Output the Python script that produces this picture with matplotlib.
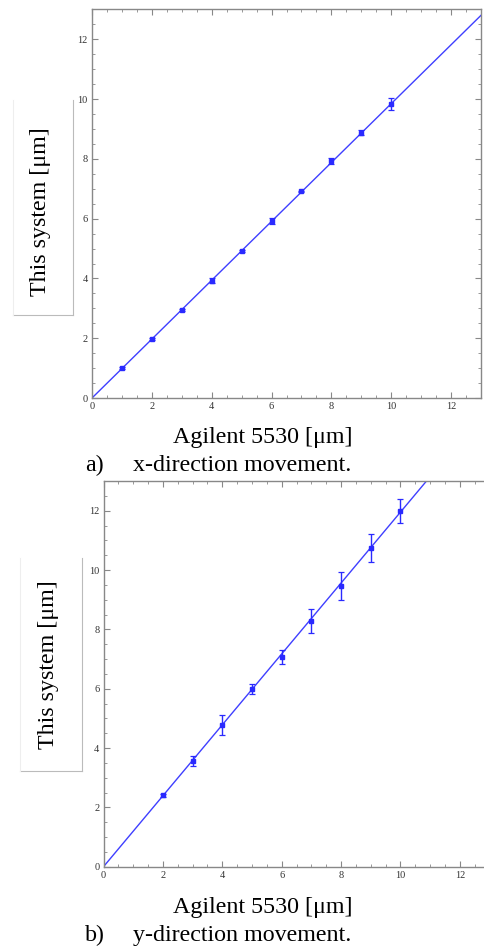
import numpy as np
import matplotlib
matplotlib.use('Agg')
import matplotlib.pyplot as plt
from matplotlib.ticker import MultipleLocator
from matplotlib.lines import Line2D

plt.rcParams['font.family'] = ['Liberation Serif', 'DejaVu Serif']

# x-direction measurements
xa = [1, 2, 3, 4, 5, 6, 7, 8, 9, 10]
ya = [1.0, 1.97, 2.94, 3.93, 4.92, 5.93, 6.91, 7.93, 8.88, 9.85]
ea = [0.04, 0.04, 0.04, 0.07, 0.03, 0.1, 0.03, 0.1, 0.08, 0.2]
slope_a = 0.985

# y-direction measurements
xb = [2, 3, 4, 5, 6, 7, 8, 9, 10]
yb = [2.41, 3.56, 4.78, 5.99, 7.08, 8.28, 9.46, 10.74, 12.0]
eb = [0.05, 0.17, 0.34, 0.16, 0.24, 0.39, 0.48, 0.46, 0.4]
slope_b = 1.195

ticks = [0, 2, 4, 6, 8, 10, 12]

BLUE = '#2a2aff'
SPINE = '#888888'
FS = 17.3

fig = plt.figure(figsize=(4.84, 9.47), dpi=100)


def setup_axes(ax):
    ax.set_xlim(0, 13)
    ax.set_ylim(0, 13)
    ax.set_xticks(ticks)
    ax.set_yticks(ticks)
    ax.xaxis.set_minor_locator(MultipleLocator(0.5))
    ax.yaxis.set_minor_locator(MultipleLocator(0.5))
    ax.tick_params(which='both', direction='in', top=True, right=True,
                   color=SPINE, labelsize=7.5, labelcolor='#333333', pad=3)
    ax.tick_params(which='major', length=4, width=0.8)
    ax.tick_params(which='minor', length=2, width=0.6)
    for s in ax.spines.values():
        s.set_color(SPINE)
        s.set_linewidth(1.0)


def draw(ax, x, y, e, slope):
    xx = np.array([0, 13])
    ax.plot(xx, slope * xx, color=BLUE, lw=1.0, alpha=0.9, zorder=2)
    ax.errorbar(x, y, yerr=e, fmt='s', ms=2.2, color=BLUE, ecolor=BLUE,
                elinewidth=1.0, capsize=2.2, capthick=0.9, zorder=3)


# panel a
ax1 = fig.add_axes([92 / 484, 1 - 398 / 947, 389 / 484, 388.5 / 947])
setup_axes(ax1)
draw(ax1, xa, ya, ea, slope_a)

# panel b (right edge runs off the image)
ax2 = fig.add_axes([103.5 / 484, 1 - 866.7 / 947, 386 / 484, 385.7 / 947])
setup_axes(ax2)
draw(ax2, xb, yb, eb, slope_b)

# y labels with the thin box lines around them
def ylabel_box(xc, yc, x_left, x_right, y_top, y_bot):
    fig.text(xc / 484, 1 - yc / 947, 'This system [\u03bcm]', rotation=90,
             ha='center', va='center', fontsize=FS)
    fig.add_artist(Line2D([x_right / 484] * 2, [1 - y_top / 947, 1 - y_bot / 947],
                          color='#bbbbbb', lw=0.8))
    fig.add_artist(Line2D([x_left / 484, x_right / 484], [1 - y_bot / 947] * 2,
                          color='#bbbbbb', lw=0.8))
    fig.add_artist(Line2D([x_left / 484] * 2, [1 - y_top / 947, 1 - y_bot / 947],
                          color='#eeeeee', lw=0.8))

ylabel_box(41, 212, 13, 73, 100, 315)
ylabel_box(49, 665, 20, 82, 558, 771)

# x labels and captions
for yl, yc, letter, cap in [(437, 465, 'a)', 'x-direction movement.'),
                            (907, 935, 'b)', 'y-direction movement.')]:
    fig.text(263 / 484, 1 - yl / 947, 'Agilent 5530 [\u03bcm]',
             ha='center', va='center', fontsize=FS)
    fig.text(85 / 484, 1 - yc / 947, letter, ha='left', va='center', fontsize=FS)
    fig.text(133 / 484, 1 - yc / 947, cap, ha='left', va='center', fontsize=FS)

fig.savefig('out.png', dpi=100)
